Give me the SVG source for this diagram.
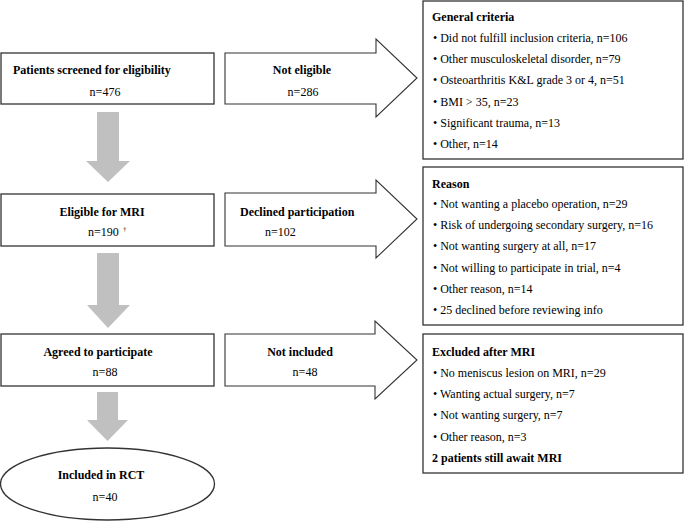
<svg xmlns="http://www.w3.org/2000/svg" width="685" height="521" viewBox="0 0 685 521">
<style>
text{font-family:"Liberation Serif","Times New Roman",serif;font-size:12px;fill:#000}
.b{font-weight:bold}
.m{text-anchor:middle}
.box{fill:#fff;stroke:#333;stroke-width:1.3}
.arr{fill:#fff;stroke:#333;stroke-width:1.1}
.down{fill:#c0c0c0;stroke:none}
</style>
<rect width="685" height="521" fill="#fff"/>
<g id="connectors">
<polygon class="down" points="97,112 119,112 119,161 130,161 108,182 86,161 97,161"/>
<polygon class="down" points="97,253 119,253 119,305 130,305 108,328 87,305 97,305"/>
<polygon class="down" points="97,392 118,392 118,420 128,420 107.5,441 87,420 97,420"/>
</g>
<g id="screened">
<rect class="box" x="1" y="53" width="213" height="51"/>
<text class="b" x="13" y="74">Patients screened for eligibility</text>
<text class="m" x="105" y="96">n=476</text>
</g>
<g id="not-eligible">
<polygon class="arr" points="225,53 376,53 376,39 417,78 376,117 376,104 225,104"/>
<text class="b m" x="302" y="74">Not eligible</text>
<text class="m" x="303" y="96">n=286</text>
</g>
<g id="general-criteria">
<rect class="box" x="423" y="1" width="260" height="158"/>
<text class="b" x="432" y="21">General criteria</text>
<text x="433" y="42">•  Did not fulfill inclusion criteria, n=106</text>
<text x="433" y="63">•  Other musculoskeletal disorder, n=79</text>
<text x="433" y="84">•  Osteoarthritis K&amp;L grade 3 or 4, n=51</text>
<text x="433" y="106">•  BMI &gt; 35, n=23</text>
<text x="433" y="127">•  Significant trauma, n=13</text>
<text x="433" y="148">•  Other, n=14</text>
</g>
<g id="eligible-mri">
<rect class="box" x="1" y="194" width="213" height="52"/>
<text class="b m" x="102" y="216">Eligible for MRI</text>
<text x="88" y="236">n=190</text>
<text x="123" y="231" style="font-size:7px">†</text>
</g>
<g id="declined">
<polygon class="arr" points="225,193 376,193 376,180 417,219 376,258 376,246 225,246"/>
<text class="b" x="240" y="216">Declined participation</text>
<text x="265" y="236">n=102</text>
</g>
<g id="reason">
<rect class="box" x="423" y="167" width="260" height="158"/>
<text class="b" x="432" y="188">Reason</text>
<text x="433" y="208">•  Not wanting a placebo operation, n=29</text>
<text x="433" y="229">•  Risk of undergoing secondary surgery, n=16</text>
<text x="433" y="250">•  Not wanting surgery at all, n=17</text>
<text x="433" y="272">•  Not willing to participate in trial, n=4</text>
<text x="433" y="293">•  Other reason, n=14</text>
<text x="433" y="314">•  25 declined before reviewing info</text>
</g>
<g id="agreed">
<rect class="box" x="1" y="334" width="213" height="52"/>
<text class="b m" x="98" y="356">Agreed to participate</text>
<text class="m" x="105" y="376">n=88</text>
</g>
<g id="not-included">
<polygon class="arr" points="225,334 375,334 375,321 417,360 375,399 375,386 225,386"/>
<text class="b m" x="300" y="356">Not included</text>
<text class="m" x="305" y="376">n=48</text>
</g>
<g id="excluded-after-mri">
<rect class="box" x="423" y="334" width="260" height="139"/>
<text class="b" x="432" y="356">Excluded after MRI</text>
<text x="433" y="377">•  No meniscus lesion on MRI, n=29</text>
<text x="433" y="398">•  Wanting actual surgery, n=7</text>
<text x="433" y="419">•  Not wanting surgery, n=7</text>
<text x="433" y="441">•  Other reason, n=3</text>
<text class="b" x="432" y="462">2 patients still await MRI</text>
</g>
<g id="included-rct">
<ellipse class="box" cx="107.5" cy="484" rx="107" ry="36"/>
<text class="b m" x="101" y="479">Included in RCT</text>
<text class="m" x="105" y="501">n=40</text>
</g>
</svg>
